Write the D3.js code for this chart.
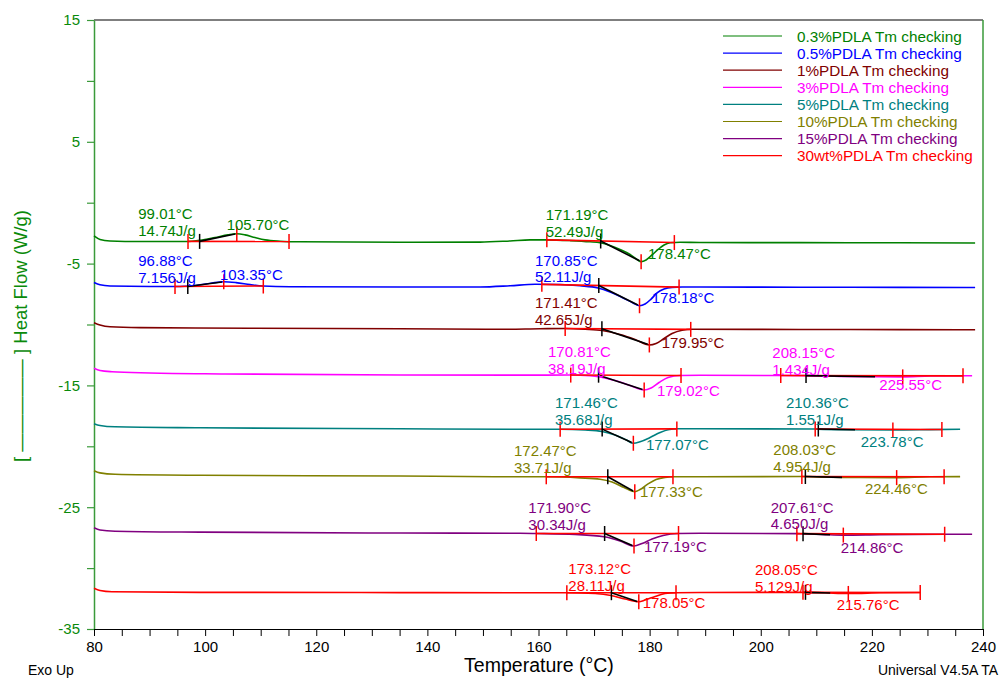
<!DOCTYPE html>
<html>
<head>
<meta charset="utf-8">
<script src="https://cdn.jsdelivr.net/npm/d3@7"></script>
<style>
  body { margin: 0; background: #fff; }
  svg { display: block; }
  text { font-family: "Liberation Sans", Arial, sans-serif; }
</style>
</head>
<body>
<svg id="chart" width="1000" height="683"></svg>
<script>
// ---- DSC heat-flow traces (Temperature °C, Heat Flow W/g) ----
const xTickValues = d3.range(80, 241, 5);
const xTickLabels = [80, 100, 120, 140, 160, 180, 200, 220, 240];
const yTickValues = d3.range(-35, 16, 5);
const yTickLabels = [15, 5, -5, -15, -25, -35];

const seriesLabels = [
  "0.3%PDLA Tm checking", "0.5%PDLA Tm checking", "1%PDLA Tm checking",
  "3%PDLA Tm checking", "5%PDLA Tm checking", "10%PDLA Tm checking",
  "15%PDLA Tm checking", "30wt%PDLA Tm checking"
];
const seriesColors = ["#008000", "#0000ff", "#800000", "#ff00ff",
                      "#008080", "#808000", "#800080", "#ff0000"];

const trace03 = [[80,-2.73],[81.08,-3.02],[82.88,-3.14],[88.28,-3.19],[96.38,-3.19],[97.64,-3.16],
  [99.08,-3.09],[101.78,-2.86],[104.12,-2.64],[105.70,-2.55],[107.18,-2.64],[108.98,-2.86],
  [110.78,-3.05],[113.48,-3.16],[117.08,-3.21],[135.08,-3.25],[149.48,-3.24],[154.88,-3.14],
  [158.48,-3.05],[161.54,-3.05],[165.68,-3.11],[169.28,-3.21],[171.08,-3.29],[172.88,-3.51],
  [174.68,-3.84],[176.48,-4.25],[177.74,-4.66],[178.47,-4.84],[179.36,-4.70],[180.44,-4.29],
  [181.52,-3.84],[182.60,-3.47],[183.68,-3.29],[185.48,-3.25],[189.08,-3.27],[207.08,-3.28],
  [225.08,-3.29],[238.58,-3.31]];
const trace05 = [[80,-6.55],[81.08,-6.74],[82.88,-6.84],[90.08,-6.88],[95.48,-6.88],[97.28,-6.84],
  [99.08,-6.74],[101.24,-6.59],[103.35,-6.49],[105.56,-6.56],[108.08,-6.72],[110.42,-6.84],
  [115.28,-6.90],[135.08,-6.92],[149.48,-6.92],[154.88,-6.82],[159.38,-6.70],[163.88,-6.72],
  [167.48,-6.82],[170.72,-7.00],[172.88,-7.33],[175.04,-7.78],[177.02,-8.23],[178.18,-8.46],
  [179.18,-8.32],[180.26,-7.91],[181.34,-7.41],[182.60,-7.09],[184.04,-6.95],[185.84,-6.92],
  [189.08,-6.92],[207.08,-6.94],[225.08,-6.95],[238.58,-6.96]];
const trace1 = [[80,-9.85],[81.08,-10.04],[82.88,-10.19],[88.28,-10.26],[108.08,-10.31],[135.08,-10.35],
  [153.08,-10.39],[160.28,-10.35],[164.78,-10.33],[168.38,-10.39],[171.44,-10.49],[174.68,-10.82],
  [177.38,-11.23],[179.95,-11.68],[181.16,-11.56],[182.60,-11.15],[184.04,-10.74],[185.84,-10.47],
  [187.64,-10.39],[207.08,-10.41],[225.08,-10.42],[238.58,-10.43]];
const trace3 = [[80,-13.60],[81.08,-13.78],[83.24,-13.88],[90.08,-13.98],[103.58,-14.06],[135.08,-14.15],
  [156.68,-14.16],[165.68,-14.15],[169.28,-14.21],[171.08,-14.31],[173.78,-14.60],[176.48,-15.01],
  [179.02,-15.38],[180.26,-15.21],[181.70,-14.76],[183.32,-14.35],[185.48,-14.19],[189.08,-14.17],
  [203.48,-14.19],[208.16,-14.20],[214.28,-14.26],[220.58,-14.29],[225.55,-14.30],[230.48,-14.23],
  [238.04,-14.21]];
const trace5 = [[80,-18.14],[81.08,-18.29],[83.78,-18.40],[99.08,-18.48],[135.08,-18.56],[156.68,-18.60],
  [163.88,-18.60],[168.38,-18.66],[171.44,-18.78],[173.78,-19.07],[175.76,-19.46],[177.07,-19.75],
  [178.28,-19.63],[180.08,-19.28],[181.88,-18.87],[183.32,-18.64],[185.12,-18.56],[189.08,-18.56],
  [209.78,-18.58],[210.32,-18.59],[216.08,-18.64],[223.78,-18.66],[230.48,-18.63],[235.88,-18.60]];
const trace10 = [[80,-22.00],[81.08,-22.18],[83.78,-22.30],[99.08,-22.38],[135.08,-22.44],[153.08,-22.50],
  [161.18,-22.50],[167.48,-22.59],[171.08,-22.70],[173.24,-22.93],[175.40,-23.38],[177.33,-23.73],
  [178.28,-23.55],[179.72,-23.09],[181.16,-22.73],[182.78,-22.55],[184.22,-22.50],[189.08,-22.50],
  [207.44,-22.48],[212.48,-22.54],[217.88,-22.56],[224.46,-22.57],[230.48,-22.50],[235.88,-22.49]];
const trace15 = [[80,-26.69],[81.08,-26.87],[83.78,-26.97],[99.08,-27.05],[135.08,-27.12],[156.68,-27.14],
  [159.56,-27.16],[166.58,-27.24],[171.80,-27.43],[174.68,-27.77],[177.19,-28.19],[178.64,-27.98],
  [180.44,-27.61],[182.42,-27.32],[185.12,-27.16],[189.08,-27.14],[206.54,-27.17],[207.44,-27.18],
  [211.58,-27.25],[214.86,-27.29],[221.48,-27.25],[233.18,-27.22],[238.04,-27.22]];
const trace30 = [[80,-31.66],[81.08,-31.84],[83.24,-31.94],[99.08,-31.99],[135.08,-32.01],[156.68,-32.02],
  [165.14,-32.02],[170.18,-32.09],[173.06,-32.25],[175.58,-32.54],[178.05,-32.76],[179.18,-32.62],
  [180.98,-32.33],[182.78,-32.09],[184.76,-32.02],[189.08,-32.00],[207.80,-31.99],[211.58,-32.03],
  [215.76,-32.08],[221.48,-32.03],[228.68,-32.00]];

// Integration limits (lo/hi), onset, peak temperature and enthalpy of each analysed transition
const events03 = [{lo:96.92, onset:99.01, peak:105.70, hi:115.10, dH:14.74},
                  {lo:161.5, onset:171.19, peak:178.47, hi:184.45, dH:52.49}];
const events05 = [{lo:94.58, onset:96.88, peak:103.35, hi:110.47, dH:7.156},
                  {lo:160.6, onset:170.85, peak:178.18, hi:185.3, dH:52.11}];
const events1  = [{lo:164.8, onset:171.41, peak:179.95, hi:187.4, dH:42.65}];
const events3  = [{lo:165.8, onset:170.81, peak:179.02, hi:185.65, dH:38.19},
                  {lo:203.6, onset:208.15, peak:225.55, hi:236.4, dH:1.434, tanEnd:220.57}];
const events5  = [{lo:163.9, onset:171.46, peak:177.07, hi:184.9, dH:35.68},
                  {lo:209.8, onset:210.36, peak:223.78, hi:232.6, dH:1.551, tanEnd:216.97}];
const events10 = [{lo:161.4, onset:172.47, peak:177.33, hi:184.2, dH:33.71},
                  {lo:207.4, onset:208.03, peak:224.46, hi:233.0, dH:4.954, tanEnd:214.63}];
const events15 = [{lo:159.6, onset:171.90, peak:177.19, hi:185.2, dH:30.34},
                  {lo:206.5, onset:207.61, peak:214.86, hi:233.1, dH:4.650, tanEnd:212.47}];
const events30 = [{lo:165.1, onset:173.12, peak:178.05, hi:184.75, dH:28.11},
                  {lo:207.6, onset:208.05, peak:215.76, hi:228.7, dH:5.129, tanEnd:212.5}];

// Annotation anchors in data units: [onset/enthalpy text start], [peak text start]
const notes03 = [[[87.97,-1.36],[103.88,-2.24]], [[161.30,-1.42],[179.71,-4.66]]];
const notes05 = [[[87.97,-5.20],[102.68,-6.35]], [[159.37,-5.16],[180.38,-8.26]]];
const notes1  = [[[159.37,-8.67],[182.18,-11.95]]];
const notes3  = [[[161.71,-12.67],[181.33,-15.87]], [[202.08,-12.75],[221.34,-15.38]]];
const notes5  = [[[162.97,-16.88],[179.35,-20.30]], [[204.55,-16.86],[218.0,-20.03]]];
const notes10 = [[[155.59,-20.80],[178.27,-24.14]], [[202.27,-20.71],[218.77,-23.92]]];
const notes15 = [[[158.17,-25.50],[178.99,-28.65]], [[201.80,-25.45],[214.39,-28.79]]];
const notes30 = [[[165.37,-30.48],[178.76,-33.30]], [[198.97,-30.57],[213.68,-33.44]]];

const traces = [trace03, trace05, trace1, trace3, trace5, trace10, trace15, trace30];
const eventSets = [events03, events05, events1, events3, events5, events10, events15, events30];
const noteSets = [notes03, notes05, notes1, notes3, notes5, notes10, notes15, notes30];

// ---- layout ----
const svg = d3.select("#chart");
const x = d3.scaleLinear().domain([80, 240]).range([94, 983]);
const y = d3.scaleLinear().domain([-35, 15]).range([629, 20]);
const axisGreen = "#3a9a3a";
const labelGreen = "#0a8a0a";

// frame: black top edge, green right edge
svg.append("line").attr("x1", 94).attr("x2", 983).attr("y1", 20).attr("y2", 20)
  .attr("stroke", "#000").attr("stroke-width", 1.2);
svg.append("line").attr("x1", 983).attr("x2", 983).attr("y1", 20).attr("y2", 629)
  .attr("stroke", axisGreen).attr("stroke-width", 1.5);

// left axis
const gy = svg.append("g").attr("transform", "translate(94,0)")
  .call(d3.axisLeft(y).tickValues(yTickValues).tickSize(7).tickSizeOuter(0).tickPadding(7)
    .tickFormat(d => yTickLabels.includes(d) ? d : ""));
gy.select(".domain").attr("stroke", axisGreen).attr("stroke-width", 1.5);
gy.selectAll(".tick line").attr("stroke", axisGreen).attr("stroke-width", 1.2);
gy.selectAll(".tick text").attr("fill", labelGreen).style("font-size", "15px")
  .style("font-family", "'Liberation Sans', Arial, sans-serif");

// bottom axis
const gx = svg.append("g").attr("transform", "translate(0,629)")
  .call(d3.axisBottom(x).tickValues(xTickValues).tickSize(7).tickSizeOuter(0).tickPadding(5)
    .tickFormat(d => xTickLabels.includes(d) ? d : ""));
gx.select(".domain").attr("stroke", "#000").attr("stroke-width", 1.2);
gx.selectAll(".tick line").attr("stroke", "#000").attr("stroke-width", 1);
gx.selectAll(".tick text").attr("fill", "#000").style("font-size", "15px")
  .style("font-family", "'Liberation Sans', Arial, sans-serif");

// axis titles and footer texts
svg.append("text").attr("x", 539).attr("y", 672).attr("text-anchor", "middle")
  .style("font-size", "19.5px").text("Temperature (°C)");
svg.append("text").attr("x", 28).attr("y", 675).style("font-size", "14px").text("Exo Up");
svg.append("text").attr("x", 998).attr("y", 675).attr("text-anchor", "end")
  .style("font-size", "14px").text("Universal V4.5A TA");
svg.append("text").attr("transform", "translate(27,336) rotate(-90)")
  .attr("text-anchor", "middle").attr("fill", labelGreen).style("font-size", "18.5px")
  .text("[ \u2014\u2014\u2014\u2014\u2014 ] Heat Flow (W/g)");

// ---- traces ----
const line = d3.line().x(d => x(d[0])).y(d => y(d[1])).curve(d3.curveMonotoneX);
function valueAt(tr, t) {
  const i = d3.bisector(d => d[0]).left(tr, t);
  if (i <= 0) return tr[0][1];
  if (i >= tr.length) return tr[tr.length - 1][1];
  const a = tr[i - 1], b = tr[i];
  return a[1] + (b[1] - a[1]) * (t - a[0]) / (b[0] - a[0]);
}

const plot = svg.append("g");
traces.forEach((tr, i) => {
  plot.append("path").datum(tr).attr("d", line).attr("fill", "none")
    .attr("stroke", seriesColors[i]).attr("stroke-width", 1.6);
});

// ---- transition analysis marks ----
const fmtT = d3.format(".2f");
const fmtH = d3.format(".4r");
const marks = svg.append("g");
const tickHalf = 7.5;
function vTick(t, v, color) {
  marks.append("line").attr("x1", x(t)).attr("x2", x(t))
    .attr("y1", y(v) - tickHalf).attr("y2", y(v) + tickHalf)
    .attr("stroke", color).attr("stroke-width", 1.5);
}

eventSets.forEach((evs, i) => {
  const tr = traces[i];
  evs.forEach((e, k) => {
    const vLo = valueAt(tr, e.lo), vHi = valueAt(tr, e.hi);
    const base = t => vLo + (vHi - vLo) * (t - e.lo) / (e.hi - e.lo);
    // integration baseline
    marks.append("line").attr("x1", x(e.lo)).attr("y1", y(vLo)).attr("x2", x(e.hi)).attr("y2", y(vHi))
      .attr("stroke", "#ff0000").attr("stroke-width", 1.6);
    // onset tangent
    const tEnd = e.tanEnd !== undefined ? e.tanEnd : e.peak - 0.3;
    marks.append("line").attr("x1", x(e.onset)).attr("y1", y(base(e.onset)))
      .attr("x2", x(tEnd)).attr("y2", y(valueAt(tr, tEnd)))
      .attr("stroke", "#000").attr("stroke-width", 1.6);
    vTick(e.lo, vLo, "#ff0000");
    vTick(e.hi, vHi, "#ff0000");
    vTick(e.peak, valueAt(tr, e.peak), "#ff0000");
    vTick(e.onset, base(e.onset), "#000");

    const [onAt, pkAt] = noteSets[i][k];
    const c = seriesColors[i];
    marks.append("text").attr("x", x(onAt[0])).attr("y", y(onAt[1])).attr("fill", c)
      .style("font-size", "15px").text(fmtT(e.onset) + "°C");
    marks.append("text").attr("x", x(onAt[0])).attr("y", y(onAt[1]) + 16.8).attr("fill", c)
      .style("font-size", "15px").text(fmtH(e.dH) + "J/g");
    marks.append("text").attr("x", x(pkAt[0])).attr("y", y(pkAt[1])).attr("fill", c)
      .style("font-size", "15px").text(fmtT(e.peak) + "°C");
  });
});

// ---- legend ----
const legend = svg.append("g");
seriesLabels.forEach((name, i) => {
  const ly = 36 + i * 17.1;
  legend.append("line").attr("x1", 723).attr("x2", 782).attr("y1", ly).attr("y2", ly)
    .attr("stroke", seriesColors[i]).attr("stroke-width", 1.2);
  legend.append("text").attr("x", 797).attr("y", ly).attr("dy", "0.36em")
    .attr("fill", seriesColors[i]).style("font-size", "15.3px").text(name);
});
</script>
</body>
</html>
